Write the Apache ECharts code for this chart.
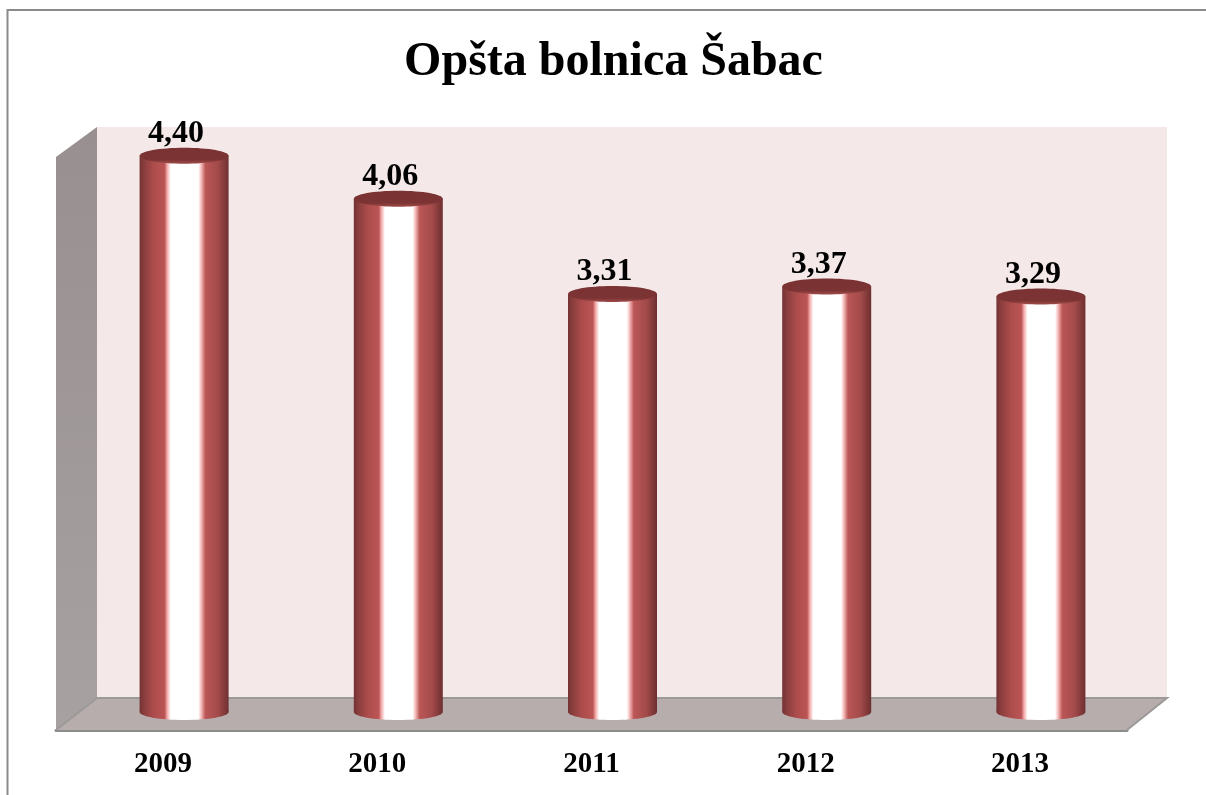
<!DOCTYPE html>
<html><head><meta charset="utf-8">
<style>html,body{margin:0;padding:0;background:#fff}#c{width:1206px;height:795px}</style>
<script src="https://cdn.jsdelivr.net/npm/echarts@6/dist/echarts.min.js"></script>
</head><body><div id="c"></div>
<script>
var titleText = 'Opšta bolnica Šabac';
var categories = ['2009','2010','2011','2012','2013'];
var values = [4.40,4.06,3.31,3.37,3.29];
var yMax = 4.5;

var FONT = '"Liberation Serif","Times New Roman",serif';
var chart = echarts.init(document.getElementById('c'), null, {renderer:'canvas'});
var bodyFill = {type:'linear',x:0,y:0,x2:1,y2:0,colorStops:[
 {offset:0,color:'#743232'},{offset:0.05,color:'#8a3d3d'},{offset:0.16,color:'#ad4c4c'},
 {offset:0.28,color:'#bb5555'},{offset:0.31,color:'#f4aaaa'},{offset:0.35,color:'#ffffff'},
 {offset:0.66,color:'#ffffff'},{offset:0.69,color:'#f8c0c0'},{offset:0.74,color:'#bb5656'},
 {offset:0.88,color:'#a34a4a'},{offset:1,color:'#6e2f2f'}]};
var capFill = {type:'linear',x:0,y:0,x2:0,y2:1,colorStops:[
 {offset:0,color:'#7a3232'},{offset:0.75,color:'#7c3333'},{offset:1,color:'#a04a4a'}]};

chart.setOption({
 animation:false,
 backgroundColor:'#fff',
 title:{text:titleText,left:608.5,top:34,textAlign:'center',
   textStyle:{fontFamily:FONT,fontWeight:'bold',fontSize:48,color:'#000'}},
 grid:{left:56,width:1071,top:159,height:571},
 xAxis:{type:'category',data:categories,
   axisLine:{show:true,lineStyle:{color:'#8c8c8c',width:3}},axisTick:{show:false},
   axisLabel:{fontFamily:FONT,fontWeight:'bold',fontSize:29,color:'#000',margin:20}},
 yAxis:{type:'value',min:0,max:yMax,interval:0.5,show:false,splitLine:{show:false}},
 graphic:{elements:[
  {type:'polyline',silent:true,z:1,shape:{points:[[7.5,795],[7.5,10],[1206,10]]},style:{fill:null,stroke:'#8a8a8a',lineWidth:2}},
  {type:'rect',silent:true,z:1,shape:{x:97,y:127,width:1070,height:571},style:{fill:'#f4e8e8'}},
  {type:'polygon',silent:true,z:1,shape:{points:[[56,157],[97,127],[97,698],[56,730]]},
    style:{fill:{type:'linear',x:0,y:0,x2:0,y2:1,colorStops:[{offset:0,color:'#989090'},{offset:1,color:'#a8a1a1'}]}}},
  {type:'polygon',silent:true,z:1,shape:{points:[[56,730],[1127,730],[1167,698],[97,698]]},
    style:{fill:'#b8adad'}},
  {type:'polyline',silent:true,z:1,shape:{points:[[56,730],[97,698],[1167,698],[1127,730]]},
    style:{fill:null,stroke:'#9c9999',lineWidth:2}}
 ]},
 series:[{
  type:'custom',z:5,clip:false,
  data:values,
  renderItem:function(params,api){
    var i=api.value(0), v=api.value(1);
    var top=api.coord([i,v]), base=api.coord([i,0]);
    var cx=top[0]+21, topY=top[1]-16, baseY=base[1]-18;
    var hw=44.5, ry=8;
    return {type:'group',children:[
      {type:'ellipse',shape:{cx:cx,cy:baseY,rx:hw,ry:ry},style:{fill:bodyFill}},
      {type:'rect',shape:{x:cx-hw,y:topY,width:hw*2,height:baseY-topY},style:{fill:bodyFill}},
      {type:'ellipse',shape:{cx:cx,cy:topY,rx:hw,ry:ry},style:{fill:capFill}},
      {type:'text',style:{text:values[params.dataIndex].toFixed(2).replace('.',','),x:cx-8,y:topY-22,
        align:'center',verticalAlign:'middle',fill:'#000',font:'bold 32px '+FONT}}
    ]};
  },
  encode:{x:0,y:1}
 }]
});
</script></body></html>
